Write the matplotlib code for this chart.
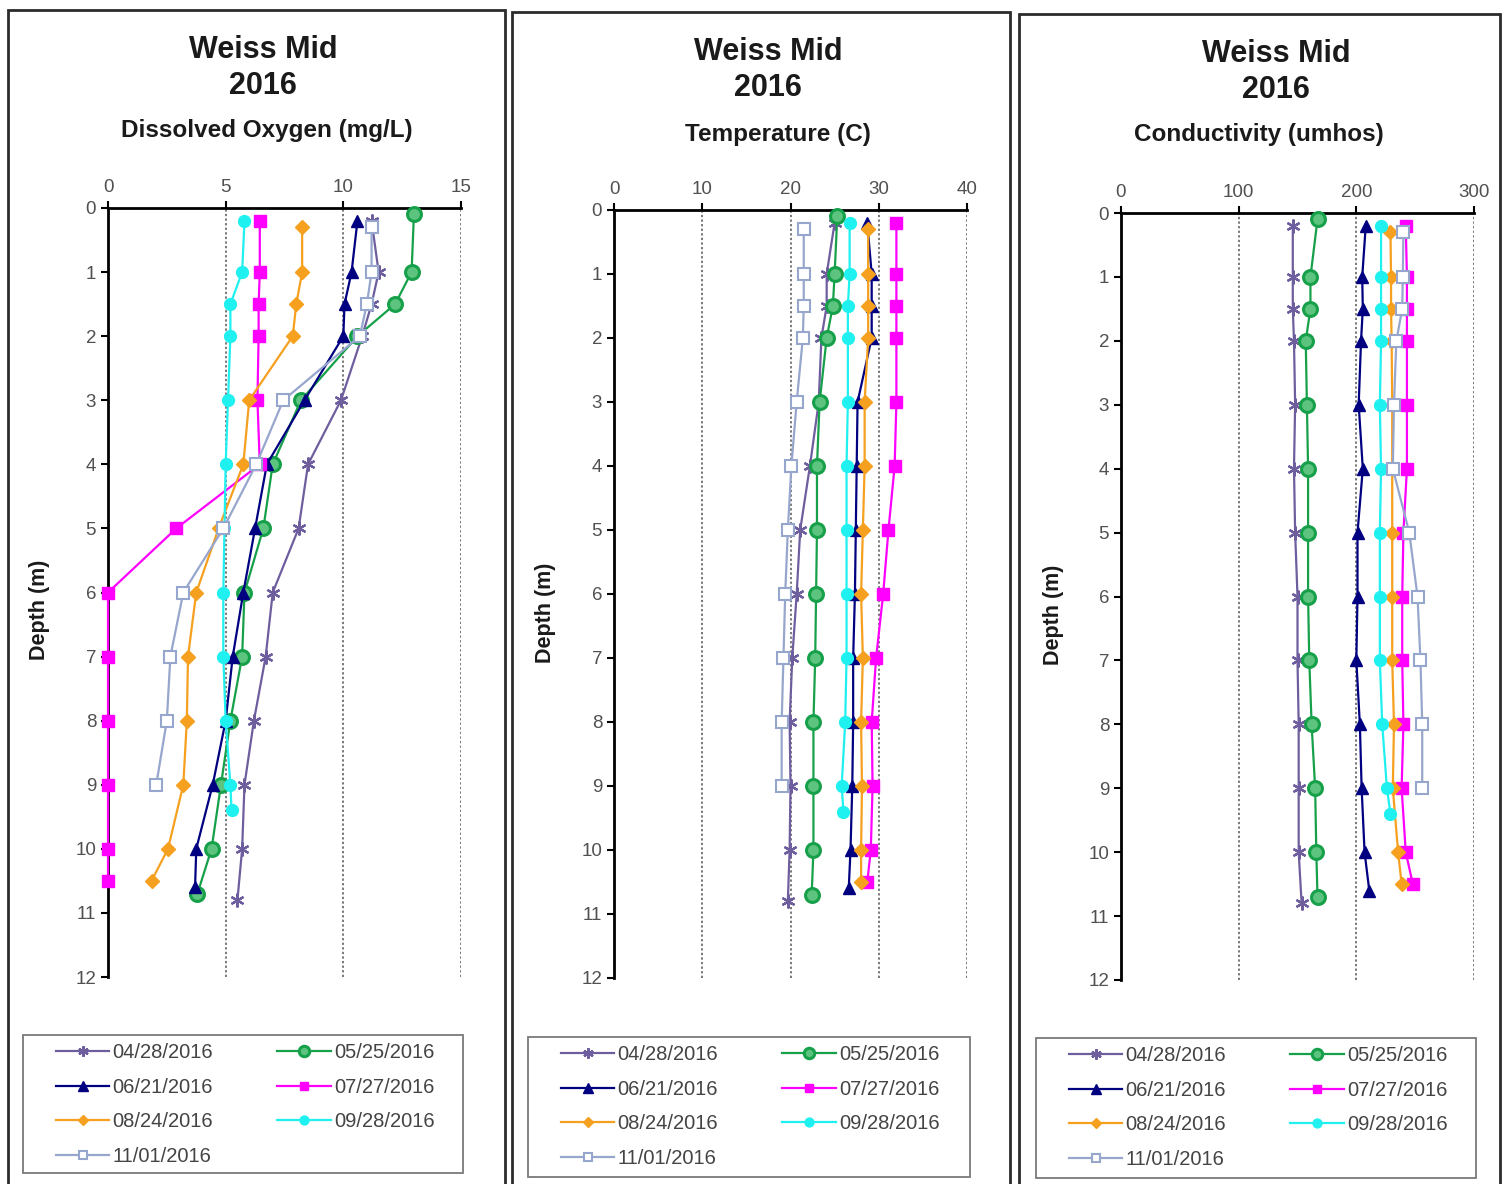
import matplotlib
matplotlib.use("Agg")
import matplotlib.pyplot as plt
from matplotlib.patches import Rectangle

plt.rcParams["font.family"] = ["Liberation Sans", "DejaVu Sans"]

# Sampling dates and depths (m) for each profile
dates = ["04/28/2016", "05/25/2016", "06/21/2016", "07/27/2016",
         "08/24/2016", "09/28/2016", "11/01/2016"]

depth_0428 = [0.2, 1, 1.5, 2, 3, 4, 5, 6, 7, 8, 9, 10, 10.8]
depth_0525 = [0.1, 1, 1.5, 2, 3, 4, 5, 6, 7, 8, 9, 10, 10.7]
depth_0621 = [0.2, 1, 1.5, 2, 3, 4, 5, 6, 7, 8, 9, 10, 10.6]
depth_0727 = [0.2, 1, 1.5, 2, 3, 4, 5, 6, 7, 8, 9, 10, 10.5]
depth_0824 = [0.3, 1, 1.5, 2, 3, 4, 5, 6, 7, 8, 9, 10, 10.5]
depth_0928 = [0.2, 1, 1.5, 2, 3, 4, 5, 6, 7, 8, 9, 9.4]
depth_1101 = [0.3, 1, 1.5, 2, 3, 4, 5, 6, 7, 8, 9]

# Dissolved oxygen (mg/L)
do_0428 = [11.2, 11.5, 11.2, 10.8, 9.9, 8.5, 8.1, 7.0, 6.7, 6.2, 5.8, 5.7, 5.5]
do_0525 = [13.0, 12.9, 12.2, 10.6, 8.2, 7.0, 6.6, 5.8, 5.7, 5.2, 4.8, 4.4, 3.8]
do_0621 = [10.6, 10.35, 10.05, 10.0, 8.35, 6.75, 6.25, 5.75, 5.3, 5.0, 4.45, 3.75, 3.7]
do_0727 = [6.45, 6.45, 6.4, 6.4, 6.35, 6.45, 2.9, 0, 0, 0, 0, 0, 0]
do_0824 = [8.25, 8.25, 8.0, 7.85, 6.0, 5.75, 4.7, 3.75, 3.4, 3.35, 3.2, 2.55, 1.85]
do_0928 = [5.8, 5.7, 5.2, 5.2, 5.1, 5.0, 4.95, 4.9, 4.9, 5.0, 5.2, 5.25]
do_1101 = [11.2, 11.2, 11.0, 10.7, 7.45, 6.3, 4.9, 3.2, 2.65, 2.5, 2.05]

# Temperature (C)
t_0428 = [25.0, 24.1, 24.1, 23.5, 23.2, 22.2, 21.1, 20.7, 20.2, 19.9, 20.0, 19.9, 19.7]
t_0525 = [25.3, 25.0, 24.8, 24.1, 23.3, 23.0, 23.0, 22.9, 22.8, 22.6, 22.6, 22.6, 22.4]
t_0621 = [28.7, 29.2, 29.2, 29.2, 27.6, 27.5, 27.4, 27.3, 27.1, 27.1, 27.0, 26.8, 26.6]
t_0727 = [32.0, 32.0, 32.0, 32.0, 32.0, 31.8, 31.1, 30.5, 29.7, 29.2, 29.3, 29.1, 28.7]
t_0824 = [28.8, 28.8, 28.8, 28.8, 28.4, 28.4, 28.2, 28.0, 28.2, 28.0, 28.1, 28.0, 28.0]
t_0928 = [26.7, 26.7, 26.5, 26.5, 26.5, 26.35, 26.35, 26.35, 26.35, 26.2, 25.8, 26.0]
t_1101 = [21.5, 21.5, 21.5, 21.4, 20.7, 20.1, 19.7, 19.4, 19.2, 19.0, 19.0]

# Conductivity (umhos)
c_0428 = [146, 146, 146, 147, 148, 147, 148, 150, 150, 151, 151, 151, 153.5]
c_0525 = [167, 161, 161, 157, 158, 159, 159, 159, 160, 162, 165, 166, 167]
c_0621 = [208, 205, 205.5, 204, 202, 205.5, 201, 201, 200, 203, 204.5, 207, 211]
c_0727 = [242, 243, 243, 243, 243, 243, 240, 239, 239, 240, 238.5, 242, 248]
c_0824 = [229, 229.5, 229.5, 230, 230.5, 230.5, 230.5, 230.5, 230.5, 232, 231, 235.5, 238.5]
c_0928 = [221, 221, 221, 221, 220, 221, 220, 220, 220, 222, 226, 229]
c_1101 = [240, 239.5, 239, 234, 232, 231, 245, 252, 254.5, 256, 256]

depths = [depth_0428, depth_0525, depth_0621, depth_0727,
          depth_0824, depth_0928, depth_1101]
panels = [
    ("Dissolved Oxygen (mg/L)", [do_0428, do_0525, do_0621, do_0727, do_0824, do_0928, do_1101],
     [0, 5, 10, 15]),
    ("Temperature (C)", [t_0428, t_0525, t_0621, t_0727, t_0824, t_0928, t_1101],
     [0, 10, 20, 30, 40]),
    ("Conductivity (umhos)", [c_0428, c_0525, c_0621, c_0727, c_0824, c_0928, c_1101],
     [0, 100, 200, 300]),
]
depth_ticks = list(range(0, 13))

# Series styling
styles = [
    dict(color="#6E5E9E", marker=(6, 2, 0), ms=10, mec="#6E5E9E", mfc="#6E5E9E", mew=1.6),
    dict(color="#17A04A", marker="o", ms=10, mec="#17A04A", mfc="#5CC47F", mew=2.2),
    dict(color="#000080", marker="^", ms=9, mec="#000080", mfc="#000080", mew=1),
    dict(color="#FF00FF", marker="s", ms=8.5, mec="#FF00FF", mfc="#FF00FF", mew=1),
    dict(color="#F5A01F", marker="D", ms=7, mec="#F5A01F", mfc="#F5A01F", mew=1),
    dict(color="#1FF0F0", marker="o", ms=8.5, mec="#1FF0F0", mfc="#1FF0F0", mew=1),
    dict(color="#97A6CC", marker="s", ms=8.5, mec="#97A6CC", mfc="white", mew=1.5),
]

W, H = 1504, 1184
fig = plt.figure(figsize=(W / 100, H / 100), dpi=100)


def fx(px):
    return px / W


def fy(py):
    return 1 - py / H


# Pixel layout of each panel
layout = [
    dict(frame=(8, 10, 505), axes=(108, 208, 461, 977), title_x=263, title_y=(50, 86),
         sub=(267, 131), ylab=(40, 610), legend=(23, 1035, 463, 1173)),
    dict(frame=(512, 12, 1010), axes=(614, 210, 967, 978), title_x=768, title_y=(52, 88),
         sub=(778, 135), ylab=(546, 613), legend=(528, 1037, 970, 1177)),
    dict(frame=(1019, 14, 1500), axes=(1121, 213, 1474, 980), title_x=1276, title_y=(54, 90),
         sub=(1259, 134), ylab=(1054, 615), legend=(1036, 1038, 1476, 1178)),
]

for (subtitle, series, xticks), lay in zip(panels, layout):
    fl, ft, fr = lay["frame"]
    fig.patches.append(Rectangle((fx(fl), fy(H + 20)), fx(fr - fl), fy(ft) - fy(H + 20),
                                 transform=fig.transFigure, fill=False,
                                 edgecolor="#2b2b2b", lw=2, zorder=0))

    l, t, r, b = lay["axes"]
    ax = fig.add_axes([fx(l), fy(b), fx(r - l), fy(t) - fy(b)])
    for vals, dep, st in zip(series, depths, styles):
        ax.plot(vals, dep, lw=1.6, clip_on=False, zorder=3, **st)
    ax.set_xlim(xticks[0], xticks[-1])
    ax.set_ylim(12, 0)
    ax.set_xticks(xticks)
    ax.set_yticks(depth_ticks)
    ax.xaxis.tick_top()
    ax.tick_params(axis="both", labelsize=13.5, labelcolor="#505050", color="black",
                   direction="out", length=5, width=1.5)
    ax.grid(axis="x", linestyle=(0, (1.5, 1.5)), color="#555555", lw=1.1)
    ax.set_axisbelow(True)
    for side in ("bottom", "right"):
        ax.spines[side].set_visible(False)
    for side in ("top", "left"):
        ax.spines[side].set_linewidth(2)
        ax.spines[side].set_color("black")

    fig.text(fx(lay["title_x"]), fy(lay["title_y"][0]), "Weiss Mid", ha="center", va="center",
             fontsize=22, fontweight="bold", color="#1a1a1a")
    fig.text(fx(lay["title_x"]), fy(lay["title_y"][1]), "2016", ha="center", va="center",
             fontsize=22, fontweight="bold", color="#1a1a1a")
    fig.text(fx(lay["sub"][0]), fy(lay["sub"][1]), subtitle, ha="center", va="center",
             fontsize=17.5, fontweight="bold", color="#1a1a1a")
    fig.text(fx(lay["ylab"][0]), fy(lay["ylab"][1]), "Depth (m)", ha="center", va="center",
             rotation=90, fontsize=15.5, fontweight="bold", color="#1a1a1a")

    # Legend: two columns, filled row by row
    lx0, ly0, lx1, ly1 = lay["legend"]
    fig.patches.append(Rectangle((fx(lx0), fy(ly1)), fx(lx1 - lx0), fy(ly0) - fy(ly1),
                                 transform=fig.transFigure, fill=False,
                                 edgecolor="#7a7a7a", lw=1.3, zorder=0))
    handles = ax.get_lines()
    order = [0, 2, 4, 6, 1, 3, 5]
    ax.legend([handles[i] for i in order], [dates[i] for i in order],
              ncol=2, loc="upper left", frameon=False,
              bbox_to_anchor=(fx(lx0 + 33), fy(ly0 + 8)),
              bbox_transform=fig.transFigure, borderpad=0, borderaxespad=0,
              fontsize=14.5, handlelength=2.65, handletextpad=0.15,
              columnspacing=3.2, labelspacing=0.78, markerscale=0.75,
              labelcolor="#444444")

fig.savefig("out.png", dpi=100)
